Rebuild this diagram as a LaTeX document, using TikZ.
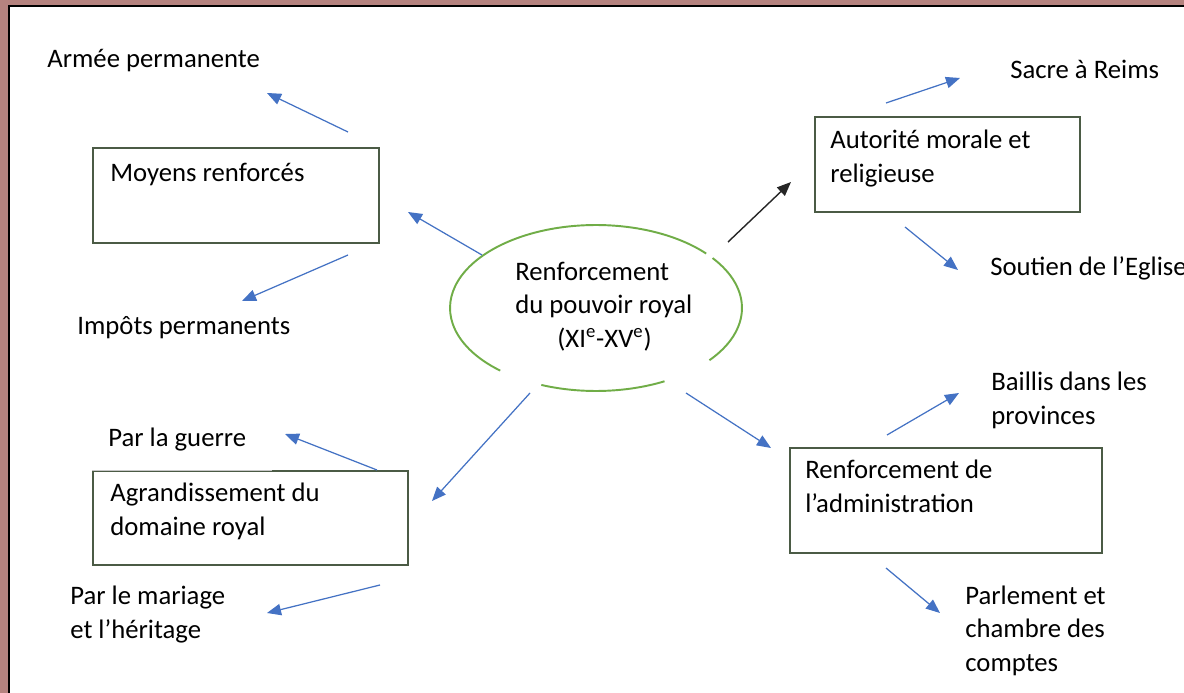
\documentclass[tikz,border=0pt]{standalone}
\usepackage{fontspec}
\setmainfont{Carlito}
\usetikzlibrary{arrows.meta,calc,shapes.geometric}
\definecolor{bgrose}{HTML}{B5837F}
\definecolor{arrowblue}{HTML}{4472C4}
\definecolor{boxline}{HTML}{4B5B45}
\definecolor{ellgreen}{HTML}{70AD47}
\begin{document}
\begin{tikzpicture}[x=0.02cm,y=-0.02cm,
  box/.style={draw=boxline,line width=0.85pt,rectangle,inner sep=0pt},
  txt/.style={inner sep=0pt,anchor=base west,font=\fontsize{15.2}{18.8}\selectfont,align=left},
  arr/.style={draw=arrowblue,line width=0.7pt,-{Triangle[length=8pt,width=6.5pt]}},
  blackarr/.style={draw=black!85,line width=0.8pt,-{Triangle[length=8pt,width=6.5pt]}},
  ellarc/.style={draw=ellgreen,line width=1.1pt}]
\useasboundingbox (0,0) rectangle (1184,693);
\clip (0,0) rectangle (1184,693);
\fill[bgrose] (0,0) rectangle (1184,693);
\fill[white] (9,6) rectangle (1184,693);
\draw[line width=1.2pt] (9,693) -- (9,6) -- (1184,6);

% central ellipse
\node[ellipse,draw=none,minimum width=5.84cm,minimum height=3.32cm] (root) at (596,308) {};
\draw[ellarc] ($(root.center)+(41:2.92cm and 1.66cm)$) arc[start angle=41,end angle=229,x radius=2.92cm,y radius=1.66cm];
\draw[ellarc] ($(root.center)+(248:2.92cm and 1.66cm)$) arc[start angle=248,end angle=298,x radius=2.92cm,y radius=1.66cm];
\draw[ellarc] ($(root.center)+(321:2.92cm and 1.66cm)$) arc[start angle=321,end angle=397,x radius=2.92cm,y radius=1.66cm];
\node[txt] (rootl1) at (515,280) {Renforcement};
\node[txt] (rootl2) at (515,313) {du pouvoir royal};
\node[txt] (rootl3) at (557,347) {(XI\textsuperscript{e}-XV\textsuperscript{e})};

% boxes (multi-line texts are anchored at the baseline of their last line)
\node[box,minimum width=5.72cm,minimum height=1.90cm] (moyens) at (236,195.5) {};
\node[txt] (moyenst) at (110,181) {Moyens renforcés};

\node[box,minimum width=5.30cm,minimum height=1.90cm] (autorite) at (947.5,164.5) {};
\node[txt] (autoritet) at (830,182) {Autorité morale et\\religieuse};

\node[box,minimum width=6.30cm,minimum height=1.88cm] (agrand) at (250.5,518) {};
\draw[gray!45,line width=0.85pt] (agrand.north west) -- ++(180,0);
\node[txt] (agrandt) at (110,535) {Agrandissement du\\domaine royal};

\node[box,minimum width=6.24cm,minimum height=2.10cm] (admin) at (946,500.5) {};
\node[txt] (admint) at (805,512) {Renforcement de\\l’administration};

% labels
\node[txt] (armee) at (47,67) {Armée permanente};
\node[txt] (impots) at (77,334) {Impôts permanents};
\node[txt] (sacre) at (1010,78) {Sacre à Reims};
\node[txt] (soutien) at (990,275) {Soutien de l’Eglise};
\node[txt] (guerre) at (108,446) {Par la guerre};
\node[txt] (mariage) at (70,638) {Par le mariage\\et l’héritage};
\node[txt] (baillis) at (991,424) {Baillis dans les\\provinces};
\node[txt] (parlement) at (965,671) {Parlement et\\chambre des\\comptes};

% connector end points
\coordinate (c1s) at (482,255); \coordinate (c1e) at (408,212);
\coordinate (c2s) at (348,132); \coordinate (c2e) at (267,93);
\coordinate (c3s) at (348,255); \coordinate (c3e) at (242,301);
\coordinate (c4s) at (728,242); \coordinate (c4e) at (791,182);
\coordinate (c5s) at (886,103); \coordinate (c5e) at (960,78);
\coordinate (c6s) at (905,227); \coordinate (c6e) at (958,270);
\coordinate (c7s) at (530,393); \coordinate (c7e) at (432,501);
\coordinate (c8s) at (686,393); \coordinate (c8e) at (771,448);
\coordinate (c9s) at (887,435); \coordinate (c9e) at (959,393);
\coordinate (c10s) at (886,568); \coordinate (c10e) at (940,613);
\coordinate (c11s) at (377,470); \coordinate (c11e) at (285,434);
\coordinate (c12s) at (380,585); \coordinate (c12e) at (267,613);

\draw[arr] (c1s) -- (c1e);
\draw[arr] (c2s) -- (c2e);
\draw[arr] (c3s) -- (c3e);
\draw[blackarr] (c4s) -- (c4e);
\draw[arr] (c5s) -- (c5e);
\draw[arr] (c6s) -- (c6e);
\draw[arr] (c7s) -- (c7e);
\draw[arr] (c8s) -- (c8e);
\draw[arr] (c9s) -- (c9e);
\draw[arr] (c10s) -- (c10e);
\draw[arr] (c11s) -- (c11e);
\draw[arr] (c12s) -- (c12e);
\end{tikzpicture}
\end{document}
